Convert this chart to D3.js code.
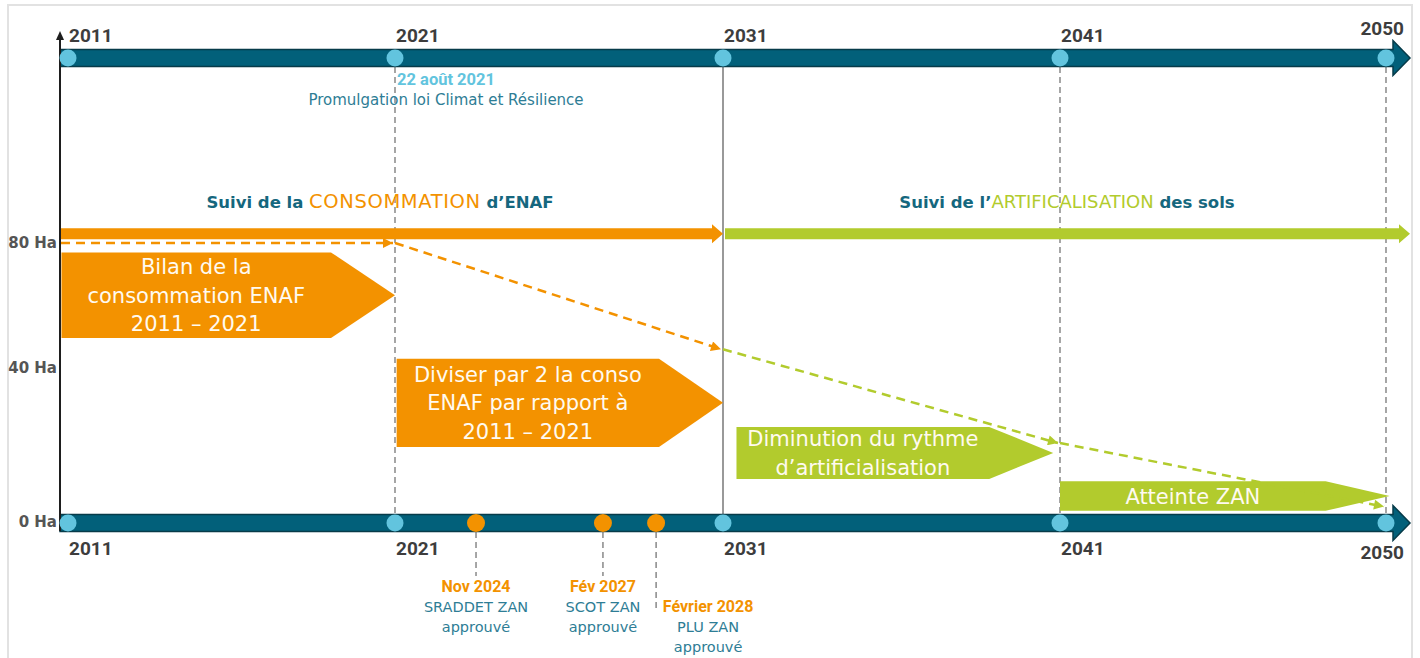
<!DOCTYPE html>
<html>
<head>
<meta charset="utf-8">
<script src="https://cdn.jsdelivr.net/npm/d3@7"></script>
<style>
  html, body { margin: 0; padding: 0; background: #fff; }
  svg { display: block; }
</style>
</head>
<body>
<svg id="chart" width="1420" height="658"></svg>
<script>
// timeline milestones
const milestoneYears = [2011, 2021, 2031, 2041, 2050];
const yTicks = [0, 40, 80];

// yearly consumption trajectory (Ha)
const trajYears = [2011, 2021, 2031, 2041, 2050];
const trajHa = [80, 80, 46, 20.5, 4];
const phaseSplitYear = 2031;

// phase blocks (years on x, Ha on y)
const blockLines = [
    ['Bilan de la', 'consommation ENAF', '2011 – 2021'],
    ['Diviser par 2 la conso', 'ENAF par rapport à', '2011 – 2021'],
    ['Diminution du rythme', 'd’artificialisation'],
    ['Atteinte ZAN']
];
const blockFrom = [2010.8, 2021.05, 2031.4, 2041];
const blockTo = [2021, 2031, 2040.8, 2050.1];
const blockHi = [77, 43, 24.7, 10.6];
const blockLo = [49.6, 19.5, 11.2, 2.9];
const phaseBarHa = 83;

// regulatory events
const eventDates = ['Nov 2024', 'Fév 2027', 'Février 2028'];
const eventDocs = ['SRADDET ZAN', 'SCOT ZAN', 'PLU ZAN'];
const eventAt = [2023.47, 2027.34, 2028.96];

// layout / styles
const eventLabelDx = [0, 0, 52];
const eventLabelRow = [0, 0, 1];
const ORANGE = '#f39200', GREEN = '#b2cb2d', TEAL = '#02607a', TEAL_DARK = '#073b49';
const LIGHT_BLUE = '#62c4de', TEXT_TEAL = '#15677e', DOC_TEAL = '#2e7d95';
const REG = '"DejaVu Sans", sans-serif';
const NUM = 'Roboto, sans-serif';

const svg = d3.select('#chart');
const axisX = 60, topY = 58;

const x = d3.scaleLinear().domain(milestoneYears).range([68, 395, 723, 1060, 1386]);
const y = d3.scaleLinear().domain(yTicks).range([522, 368, 243]);
const xEnd = x(2050) + 24;

// frame
svg.append('rect')
    .attr('x', 8).attr('y', 5).attr('width', 1404).attr('height', 700)
    .attr('fill', 'none').attr('stroke', '#e2e2e2').attr('stroke-width', 2);

const arrowPath = (x0, x1, cy, shaftH, headH, headL) => {
    const p = d3.path();
    p.moveTo(x0, cy - shaftH / 2);
    p.lineTo(x1 - headL, cy - shaftH / 2);
    p.lineTo(x1 - headL, cy - headH / 2);
    p.lineTo(x1, cy);
    p.lineTo(x1 - headL, cy + headH / 2);
    p.lineTo(x1 - headL, cy + shaftH / 2);
    p.lineTo(x0, cy + shaftH / 2);
    p.closePath();
    return p.toString();
};

// markers
const defs = svg.append('defs');
[['arr-orange', ORANGE], ['arr-green', GREEN]].forEach(([id, c]) => {
    defs.append('marker')
        .attr('id', id)
        .attr('viewBox', '0 0 10 10')
        .attr('refX', 10).attr('refY', 5)
        .attr('markerUnits', 'userSpaceOnUse')
        .attr('markerWidth', 11).attr('markerHeight', 10)
        .attr('orient', 'auto')
        .append('path').attr('d', 'M0,0L10,5L0,10z').attr('fill', c);
});

// vertical guides
const guides = milestoneYears.slice(1);
svg.selectAll('line.guide')
    .data(guides)
    .enter()
    .append('line')
    .attr('class', 'guide')
    .attr('x1', d => x(d)).attr('x2', d => x(d))
    .attr('y1', topY + 9).attr('y2', y(0) - 8)
    .attr('stroke', d => d === phaseSplitYear ? '#555' : '#6b6b6b')
    .attr('stroke-width', 1.2)
    .attr('stroke-dasharray', d => d === phaseSplitYear ? null : '6,4');

// phase bars
svg.append('path')
    .attr('d', arrowPath(axisX, x(phaseSplitYear), y(phaseBarHa), 11, 19, 11))
    .attr('fill', ORANGE);
svg.append('path')
    .attr('d', arrowPath(x(phaseSplitYear) + 2, xEnd, y(phaseBarHa), 11, 19, 11))
    .attr('fill', GREEN);

// phase titles
const title1 = svg.append('text')
    .attr('x', 380).attr('y', 208)
    .attr('text-anchor', 'middle')
    .style('font-family', REG).style('font-size', '16.5px');
title1.append('tspan').text('Suivi de la ').attr('fill', TEXT_TEAL).style('font-weight', 'bold');
title1.append('tspan').text('CONSOMMATION').attr('fill', ORANGE).style('font-size', '19.5px').style('letter-spacing', '0.6px');
title1.append('tspan').text(' d’ENAF').attr('fill', TEXT_TEAL).style('font-weight', 'bold');

const title2 = svg.append('text')
    .attr('x', 1067).attr('y', 208)
    .attr('text-anchor', 'middle')
    .style('font-family', REG).style('font-size', '16.5px');
title2.append('tspan').text('Suivi de l’').attr('fill', TEXT_TEAL).style('font-weight', 'bold');
title2.append('tspan').text('ARTIFICALISATION').attr('fill', GREEN).style('font-size', '18px');
title2.append('tspan').text(' des sols').attr('fill', TEXT_TEAL).style('font-weight', 'bold');

// phase blocks
const blocks = blockLines.map((lines, i) => ({
    lines,
    x0: x(blockFrom[i]), x1: x(blockTo[i]),
    yt: y(blockHi[i]), yb: y(blockLo[i]),
    color: blockFrom[i] < phaseSplitYear ? ORANGE : GREEN
}));
const bg = svg.selectAll('g.block')
    .data(blocks)
    .enter()
    .append('g').attr('class', 'block');
bg.append('path')
    .attr('d', d => {
        const pt = 64, ym = (d.yt + d.yb) / 2;
        return `M${d.x0},${d.yt}L${d.x1 - pt},${d.yt}L${d.x1},${ym}L${d.x1 - pt},${d.yb}L${d.x0},${d.yb}Z`;
    })
    .attr('fill', d => d.color);
bg.each(function (d) {
    const cx = (d.x0 + d.x1 - 64) / 2;
    const cy = (d.yt + d.yb) / 2 + 7.5;
    const n = d.lines.length;
    d3.select(this).selectAll('text')
        .data(d.lines)
        .enter()
        .append('text')
        .attr('x', cx)
        .attr('y', (t, j) => cy + (j - (n - 1) / 2) * 28.5)
        .attr('text-anchor', 'middle')
        .attr('fill', '#fffaf0')
        .style('font-family', REG).style('font-size', '21px')
        .text(t => t);
});

// trajectory
const pts = trajYears.map((yr, i) => [i === 0 ? axisX + 1 : x(yr), y(trajHa[i])]);
const segs = d3.pairs(pts).map((p, i) => ({ p, phase: trajYears[i] < phaseSplitYear ? 'conso' : 'artif' }));
svg.selectAll('line.traj')
    .data(segs)
    .enter()
    .append('line')
    .attr('class', 'traj')
    .attr('x1', d => d.p[0][0]).attr('y1', d => d.p[0][1])
    .attr('x2', d => d.p[1][0] - 2).attr('y2', d => d.p[1][1])
    .attr('stroke', d => d.phase === 'conso' ? ORANGE : GREEN)
    .attr('stroke-width', 2.5)
    .attr('stroke-dasharray', '9,6')
    .attr('marker-end', d => d.phase === 'conso' ? 'url(#arr-orange)' : 'url(#arr-green)');

// timeline bars
[topY, y(0) + 1].forEach(cy => {
    svg.append('path')
        .attr('d', arrowPath(axisX, xEnd, cy, 17, 35, 17))
        .attr('fill', TEAL).attr('stroke', TEAL_DARK).attr('stroke-width', 1.5);
});

// y axis line with arrow
svg.append('line')
    .attr('x1', axisX).attr('x2', axisX)
    .attr('y1', 38).attr('y2', y(0) + 9)
    .attr('stroke', '#1e1e1e').attr('stroke-width', 2);
svg.append('path')
    .attr('d', `M${axisX - 4},40L${axisX},31L${axisX + 4},40Z`)
    .attr('fill', '#1e1e1e');

const yAxis = svg.append('g')
    .attr('transform', `translate(${axisX},0)`)
    .call(d3.axisLeft(y).tickValues(yTicks).tickSize(0).tickPadding(3).tickFormat(d => d + ' Ha'));
yAxis.select('.domain').remove();
yAxis.selectAll('text')
    .attr('fill', '#555')
    .style('font-family', REG).style('font-size', '15px').style('font-weight', 'bold');

// milestone circles
[topY, y(0) + 1].forEach(cy => {
    svg.selectAll(null)
        .data(milestoneYears)
        .enter()
        .append('circle')
        .attr('cx', d => x(d)).attr('cy', cy).attr('r', 8.5)
        .attr('fill', LIGHT_BLUE);
});

// year labels
const last = milestoneYears.length - 1;
const yearLabel = (yy, yLast) => svg.selectAll(null)
    .data(milestoneYears)
    .enter()
    .append('text')
    .attr('x', (d, i) => i === last ? x(d) + 18 : x(d) + 1)
    .attr('y', (d, i) => i === last ? yLast : yy)
    .attr('text-anchor', (d, i) => i === last ? 'end' : 'start')
    .attr('fill', '#3d3d3d')
    .style('font-family', NUM).style('font-size', '19px').style('font-weight', 'bold')
    .text(d => d);
yearLabel(42, 35);
yearLabel(555, 559);

// law annotation
svg.append('text')
    .attr('x', x(2021) + 51).attr('y', 85)
    .attr('text-anchor', 'middle').attr('fill', LIGHT_BLUE)
    .style('font-family', NUM).style('font-size', '16.5px').style('font-weight', 'bold')
    .text('22 août 2021');
svg.append('text')
    .attr('x', x(2021) + 51).attr('y', 105)
    .attr('text-anchor', 'middle').attr('fill', DOC_TEAL)
    .style('font-family', REG).style('font-size', '15px')
    .text('Promulgation loi Climat et Résilience');

// events
const events = eventDates.map((d, i) => ({ date: d, doc: eventDocs[i], t: eventAt[i], dx: eventLabelDx[i], row: eventLabelRow[i] }));
svg.selectAll('line.ev')
    .data(events)
    .enter()
    .append('line')
    .attr('x1', d => x(d.t)).attr('x2', d => x(d.t))
    .attr('y1', y(0) + 10).attr('y2', d => d.row ? 610 : 576)
    .attr('stroke', '#6b6b6b').attr('stroke-width', 1.2).attr('stroke-dasharray', '6,4');
svg.selectAll('circle.ev')
    .data(events)
    .enter()
    .append('circle')
    .attr('cx', d => x(d.t)).attr('cy', y(0) + 1).attr('r', 9)
    .attr('fill', ORANGE);
const eg = svg.selectAll('g.ev')
    .data(events)
    .enter()
    .append('g')
    .attr('transform', d => `translate(${x(d.t) + d.dx},${592 + d.row * 20})`);
eg.append('text')
    .attr('text-anchor', 'middle').attr('fill', ORANGE)
    .style('font-family', NUM).style('font-size', '16px').style('font-weight', 'bold')
    .text(d => d.date);
eg.append('text')
    .attr('y', 20)
    .attr('text-anchor', 'middle').attr('fill', DOC_TEAL)
    .style('font-family', REG).style('font-size', '14.5px')
    .text(d => d.doc);
eg.append('text')
    .attr('y', 40)
    .attr('text-anchor', 'middle').attr('fill', DOC_TEAL)
    .style('font-family', REG).style('font-size', '14.5px')
    .text('approuvé');
</script>
</body>
</html>
